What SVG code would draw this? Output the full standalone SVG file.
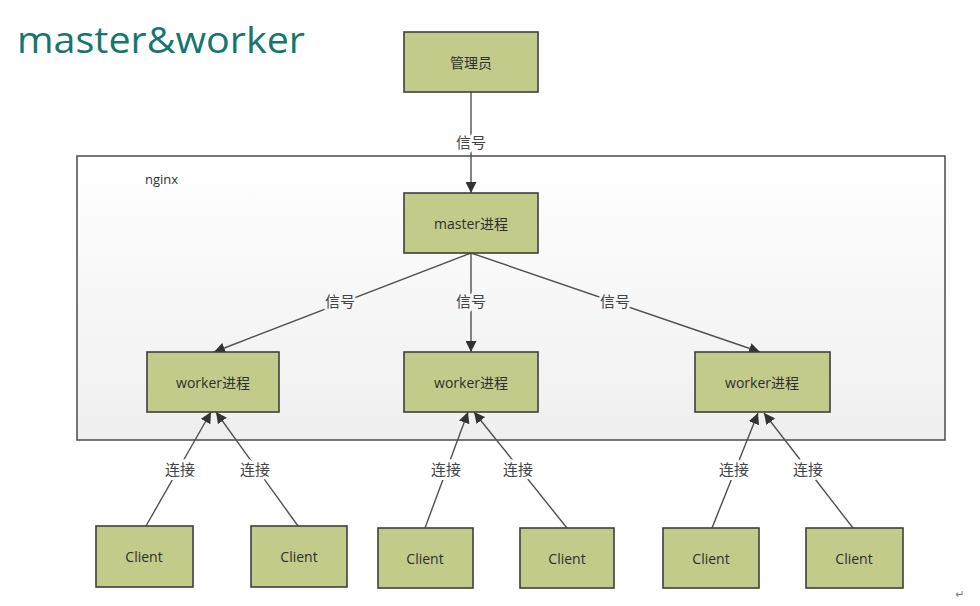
<svg xmlns="http://www.w3.org/2000/svg" width="980" height="606" viewBox="0 0 980 606">
<defs>
<linearGradient id="bg" x1="0" y1="0" x2="0" y2="1"><stop offset="0" stop-color="#ffffff"/><stop offset="1" stop-color="#efefef"/></linearGradient>
<marker id="ah" viewBox="0 0 10 10" refX="10" refY="5" markerWidth="11" markerHeight="11" markerUnits="userSpaceOnUse" orient="auto"><path d="M0,0 L10,5 L0,10 z" fill="#333"/></marker>
<style>
.box{fill:#c3cb8b;stroke:#3f3f3f;stroke-width:1.6}
.bt{font-family:"Open Sans","Noto Sans CJK SC",sans-serif;font-size:14px;fill:#2e2e2e;text-anchor:middle;dominant-baseline:central}
.ln{stroke:#505050;stroke-width:1.4;fill:none}
.lb{font-family:"Noto Sans CJK SC",sans-serif;font-size:15px;fill:#444;text-anchor:middle;dominant-baseline:central;stroke-width:6;stroke-linejoin:round;paint-order:stroke}
</style>
</defs>
<rect width="980" height="606" fill="#fff"/>
<text x="17" y="53" font-family="Open Sans,sans-serif" font-size="37" fill="#16766f" textLength="288" lengthAdjust="spacingAndGlyphs">master&amp;worker</text>
<g id="nginx">
<rect x="77" y="156" width="868" height="284" fill="url(#bg)" stroke="#555" stroke-width="1.6"/>
<text x="145" y="184" font-family="Open Sans,sans-serif" font-size="13" fill="#333">nginx</text>
</g>
<g id="connectors">
<line class="ln" x1="471" y1="92" x2="471" y2="193" marker-end="url(#ah)"/>
<line class="ln" x1="471" y1="253" x2="214" y2="352" marker-end="url(#ah)"/>
<line class="ln" x1="471" y1="253" x2="471" y2="352" marker-end="url(#ah)"/>
<line class="ln" x1="471" y1="253" x2="760" y2="352" marker-end="url(#ah)"/>
<line class="ln" x1="146" y1="526" x2="211" y2="412" marker-end="url(#ah)"/>
<line class="ln" x1="298" y1="526" x2="216" y2="412" marker-end="url(#ah)"/>
<line class="ln" x1="425" y1="528" x2="468" y2="412" marker-end="url(#ah)"/>
<line class="ln" x1="567" y1="528" x2="474" y2="412" marker-end="url(#ah)"/>
<line class="ln" x1="712" y1="528" x2="758" y2="413" marker-end="url(#ah)"/>
<line class="ln" x1="853" y1="528" x2="764" y2="413" marker-end="url(#ah)"/>
<text class="lb" x="471" y="141" stroke="#fff">信号</text>
<text class="lb" x="340" y="300" stroke="#f7f7f7">信号</text>
<text class="lb" x="471" y="300" stroke="#f7f7f7">信号</text>
<text class="lb" x="615" y="300" stroke="#f7f7f7">信号</text>
<text class="lb" x="180" y="468" stroke="#fff">连接</text>
<text class="lb" x="255" y="468" stroke="#fff">连接</text>
<text class="lb" x="446" y="468" stroke="#fff">连接</text>
<text class="lb" x="518" y="468" stroke="#fff">连接</text>
<text class="lb" x="734" y="468" stroke="#fff">连接</text>
<text class="lb" x="808" y="468" stroke="#fff">连接</text>
</g>
<g id="manager"><rect class="box" x="404" y="32" width="134" height="60"/><text class="bt" x="471" y="62">管理员</text></g>
<g id="master"><rect class="box" x="404" y="193" width="134" height="60"/><text class="bt" x="471" y="223">master进程</text></g>
<g id="worker1"><rect class="box" x="147" y="352" width="132" height="60"/><text class="bt" x="213" y="382">worker进程</text></g>
<g id="worker2"><rect class="box" x="404" y="352" width="134" height="60"/><text class="bt" x="471" y="382">worker进程</text></g>
<g id="worker3"><rect class="box" x="695" y="352" width="135" height="60"/><text class="bt" x="762" y="382">worker进程</text></g>
<g id="client1"><rect class="box" x="96" y="526" width="97" height="61"/><text class="bt" x="144" y="556">Client</text></g>
<g id="client2"><rect class="box" x="251" y="526" width="96" height="61"/><text class="bt" x="299" y="556">Client</text></g>
<g id="client3"><rect class="box" x="378" y="528" width="95" height="60"/><text class="bt" x="425" y="558">Client</text></g>
<g id="client4"><rect class="box" x="520" y="528" width="94" height="60"/><text class="bt" x="567" y="558">Client</text></g>
<g id="client5"><rect class="box" x="663" y="528" width="96" height="60"/><text class="bt" x="711" y="558">Client</text></g>
<g id="client6"><rect class="box" x="806" y="528" width="97" height="60"/><text class="bt" x="854" y="558">Client</text></g>
<text x="960" y="598" font-family="DejaVu Sans,sans-serif" font-size="11" fill="#777" text-anchor="middle">↵</text>
</svg>
